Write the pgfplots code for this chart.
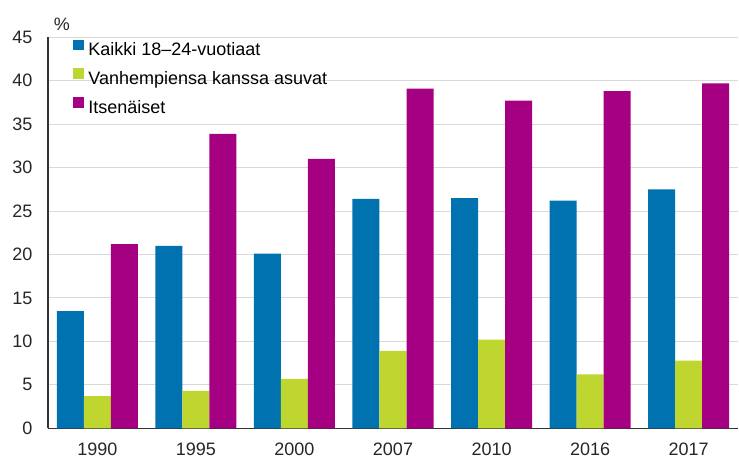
\documentclass[border=0pt]{standalone}
\usepackage{pgfplots}
\pgfplotsset{compat=1.18}
\usepackage{fontspec}
\setmainfont{Liberation Sans}
\definecolor{sfblue}{RGB}{0,114,176}
\definecolor{sfgreen}{RGB}{192,214,48}
\definecolor{sfmag}{RGB}{165,0,130}
\newcommand{\chartfont}{\fontsize{18}{21}\selectfont}
\begin{document}
\begin{tikzpicture}
\begin{axis}[
  scale only axis,
  width=690pt,
  height=391pt,
  ybar,
  bar width=0.274,
  xmin=-0.5, xmax=6.5,
  ymin=0, ymax=45,
  xtick={0,...,6},
  xticklabels={1990,1995,2000,2007,2010,2016,2017},
  ytick={0,5,...,45},
  axis x line*=bottom,
  axis y line*=left,
  axis line style={black!80, line width=1.4pt},
  major tick length=0pt,
  ymajorgrids,
  grid style={black!15, line width=1pt},
  tick label style={font=\chartfont, text=black!85},
  yticklabel style={xshift=-12pt},
  xticklabel style={yshift=-11.5pt},
  /pgf/number format/assume math mode=true,
  legend style={
    at={(0.032,1.0)},
    anchor=north west,
    draw=none,
    fill=none,
    font=\chartfont,
    row sep=9pt,
    nodes={text height=13pt, text depth=4pt, inner sep=0pt},
    /tikz/every odd column/.append style={column sep=4.5pt},
  },
  legend cell align=left,
  legend image code/.code={\fill[#1,draw=none] (0pt,0.8pt) rectangle (10.6pt,11.4pt);},
]
\addplot[fill=sfblue, draw=none, bar shift=-0.274] coordinates {
  (0,13.5) (1,21.0) (2,20.1) (3,26.4) (4,26.5) (5,26.2) (6,27.5)};
\addplot[fill=sfgreen, draw=none, bar shift=0] coordinates {
  (0,3.7) (1,4.3) (2,5.7) (3,8.9) (4,10.2) (5,6.2) (6,7.8)};
\addplot[fill=sfmag, draw=none, bar shift=0.274] coordinates {
  (0,21.2) (1,33.9) (2,31.0) (3,39.1) (4,37.7) (5,38.8) (6,39.7)};
\legend{Kaikki 18–24-vuotiaat, Vanhempiensa kanssa asuvat, Itsenäiset}
\coordinate (o) at (rel axis cs:0,0);
\coordinate (tl) at (rel axis cs:0,1);
\end{axis}
\node[font=\chartfont, text=black!85] at ([xshift=14pt,yshift=13pt]tl) {\%};
\pgfresetboundingbox
\path ([xshift=-48pt,yshift=-30.7pt]o) rectangle ([xshift=691pt,yshift=428.3pt]o);
\end{tikzpicture}
\end{document}
